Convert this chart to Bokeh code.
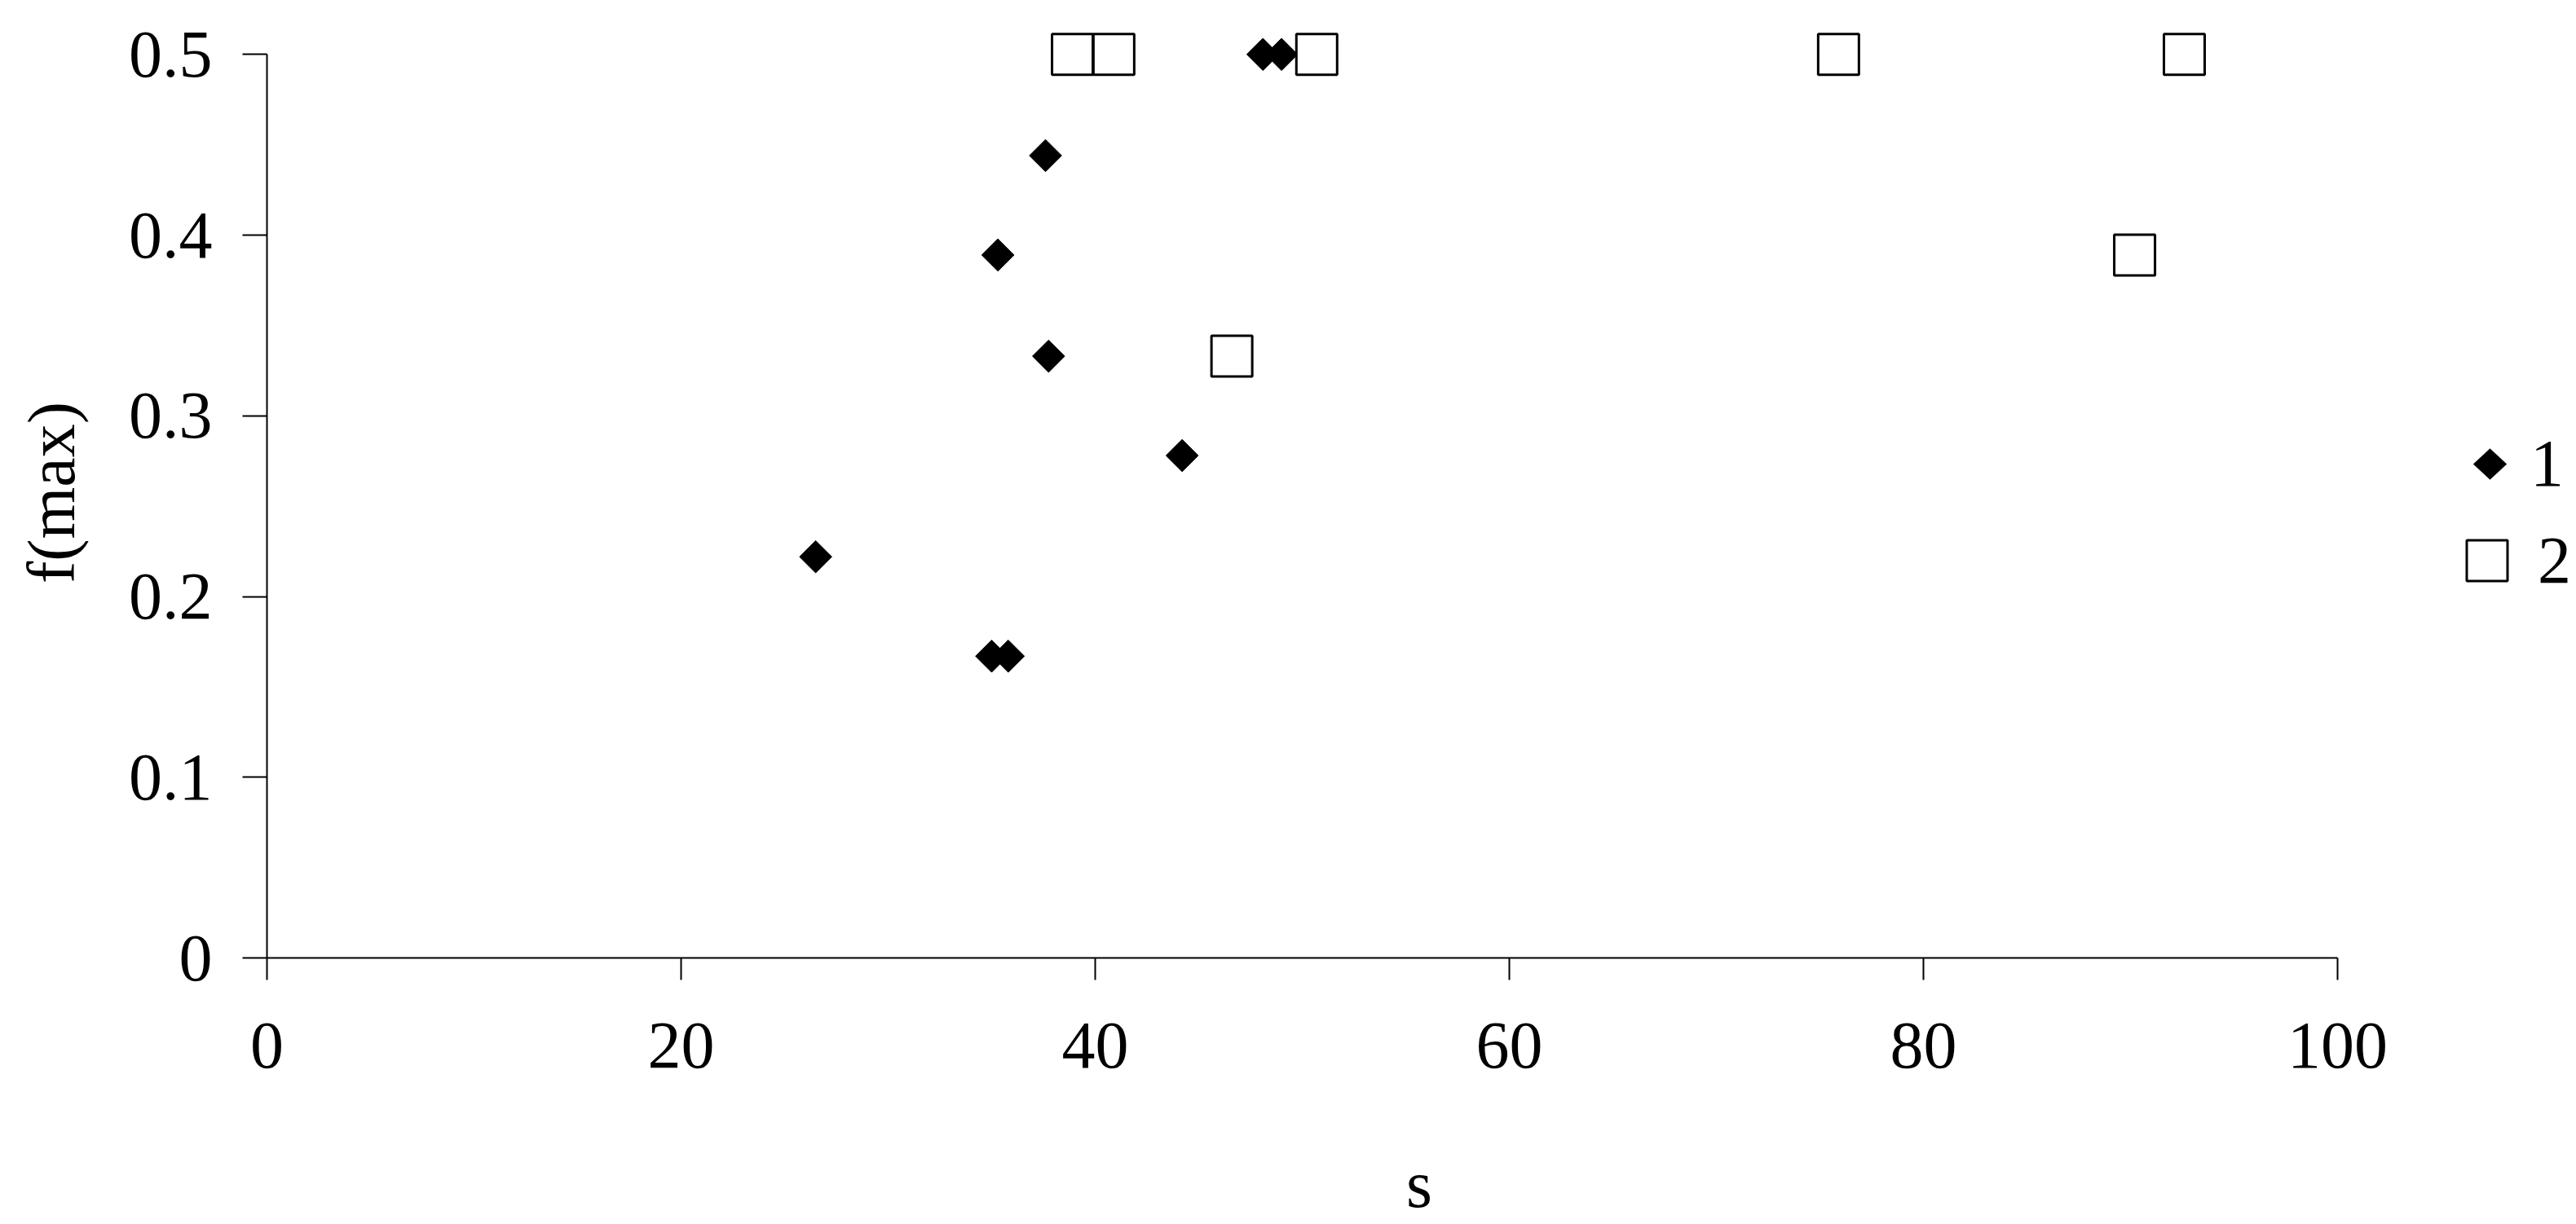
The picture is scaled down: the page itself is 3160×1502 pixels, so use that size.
import math
from bokeh.plotting import figure
from bokeh.models import Range1d, FixedTicker, Legend, LegendItem, PolyAnnotation
from bokeh.embed import file_html
from bokeh.resources import INLINE

# ---- data ----
s_series1 = [26.5, 35.0, 35.8, 35.3, 37.6, 37.75, 44.2, 48.1, 49.0]
f_series1 = [0.222, 0.167, 0.167, 0.389, 0.444, 0.333, 0.278, 0.5, 0.5]
s_series2 = [38.9, 40.9, 50.7, 46.6, 75.9, 92.6, 90.2]
f_series2 = [0.5, 0.5, 0.5, 0.333, 0.5, 0.5, 0.389]
series_names = ["1", "2"]
x_ticks = [0, 20, 40, 60, 80, 100]
x_tick_labels = ["0", "20", "40", "60", "80", "100"]
y_ticks = [0, 0.1, 0.2, 0.3, 0.4, 0.5]
y_tick_labels = ["0", "0.1", "0.2", "0.3", "0.4", "0.5"]
x_title = "s"
y_title = "f(max)"

FONT = "Liberation Serif"
FS = "82px"

# frame extends past s=100 (axis bounded at 100) so the legend sits inside it
p = figure(
    output_backend="svg", toolbar_location=None,
    frame_width=2827, frame_height=1142,
    min_border_left=327, min_border_right=0,
    min_border_top=33, min_border_bottom=300,
    x_range=Range1d(0, 111.3), y_range=Range1d(0, 0.515),
    background_fill_color="white", border_fill_color="white",
)
p.outline_line_color = None
p.grid.visible = False

r1 = p.scatter(s_series1, f_series1, marker="square", size=28, angle=math.pi / 4,
               fill_color="black", line_color="black", line_width=1)
r2 = p.scatter(s_series2, f_series2, marker="square", size=50,
               fill_color="white", line_color="black", line_width=3)

# axes
xa = p.xaxis[0]
ya = p.yaxis[0]
xa.ticker = FixedTicker(ticks=x_ticks)
ya.ticker = FixedTicker(ticks=y_ticks)
xa.major_label_overrides = dict(zip(x_ticks, x_tick_labels))
ya.major_label_overrides = dict(zip(y_ticks, y_tick_labels))
ya.bounds = (0, 0.5)
xa.bounds = (0, 100)
xa.axis_label = x_title
ya.axis_label = y_title
for ax in (xa, ya):
    ax.axis_line_color = "black"
    ax.axis_line_width = 2
    ax.major_tick_line_color = "black"
    ax.major_tick_line_width = 2
    ax.minor_tick_line_color = None
    ax.major_tick_in = 0
    ax.major_label_text_font = FONT
    ax.major_label_text_font_size = FS
    ax.major_label_text_color = "black"
    ax.axis_label_text_font = FONT
    ax.axis_label_text_font_size = FS
    ax.axis_label_text_font_style = "normal"
    ax.axis_label_text_color = "black"
xa.major_tick_out = 27
xa.major_label_standoff = 53
xa.axis_label_standoff = 95
ya.major_tick_out = 30
ya.major_label_standoff = 37
ya.axis_label_standoff = 46
ya.major_label_orientation = "horizontal"

# legends (one per series so each symbol keeps its own size)
def make_legend(item_label, renderer, gw, gh, loc, standoff):
    lg = Legend(items=[LegendItem(label=item_label, renderers=[renderer])],
                location=loc, orientation="vertical",
                glyph_width=gw, glyph_height=gh, label_height=gh,
                label_standoff=standoff, padding=0, margin=0, spacing=0,
                border_line_color=None, background_fill_alpha=0,
                label_text_font=FONT, label_text_font_size=FS,
                label_text_color="black")
    return lg

# series 1: the legend's own (unrotated) glyph is shrunk to a point and a
# rotated-square key is drawn over it, as in the reference
leg1 = make_legend(series_names[0], r1, 1, 100, (2726, 556), 50)
leg2 = make_legend(series_names[1], r2, 125, 125, (2661, 425), -10)
p.add_layout(leg1)
p.add_layout(leg2)

kx, ky, hw, hh = 3054, 569, 20.5, 19
diamond_key = PolyAnnotation(
    xs=[kx - hw, kx, kx + hw, kx], ys=[ky, ky - hh, ky, ky + hh],
    xs_units="canvas", ys_units="canvas",
    fill_color="black", fill_alpha=1.0, line_color="black", line_width=1,
)
p.add_layout(diamond_key)

open("out.html", "w").write(file_html(p, INLINE))
